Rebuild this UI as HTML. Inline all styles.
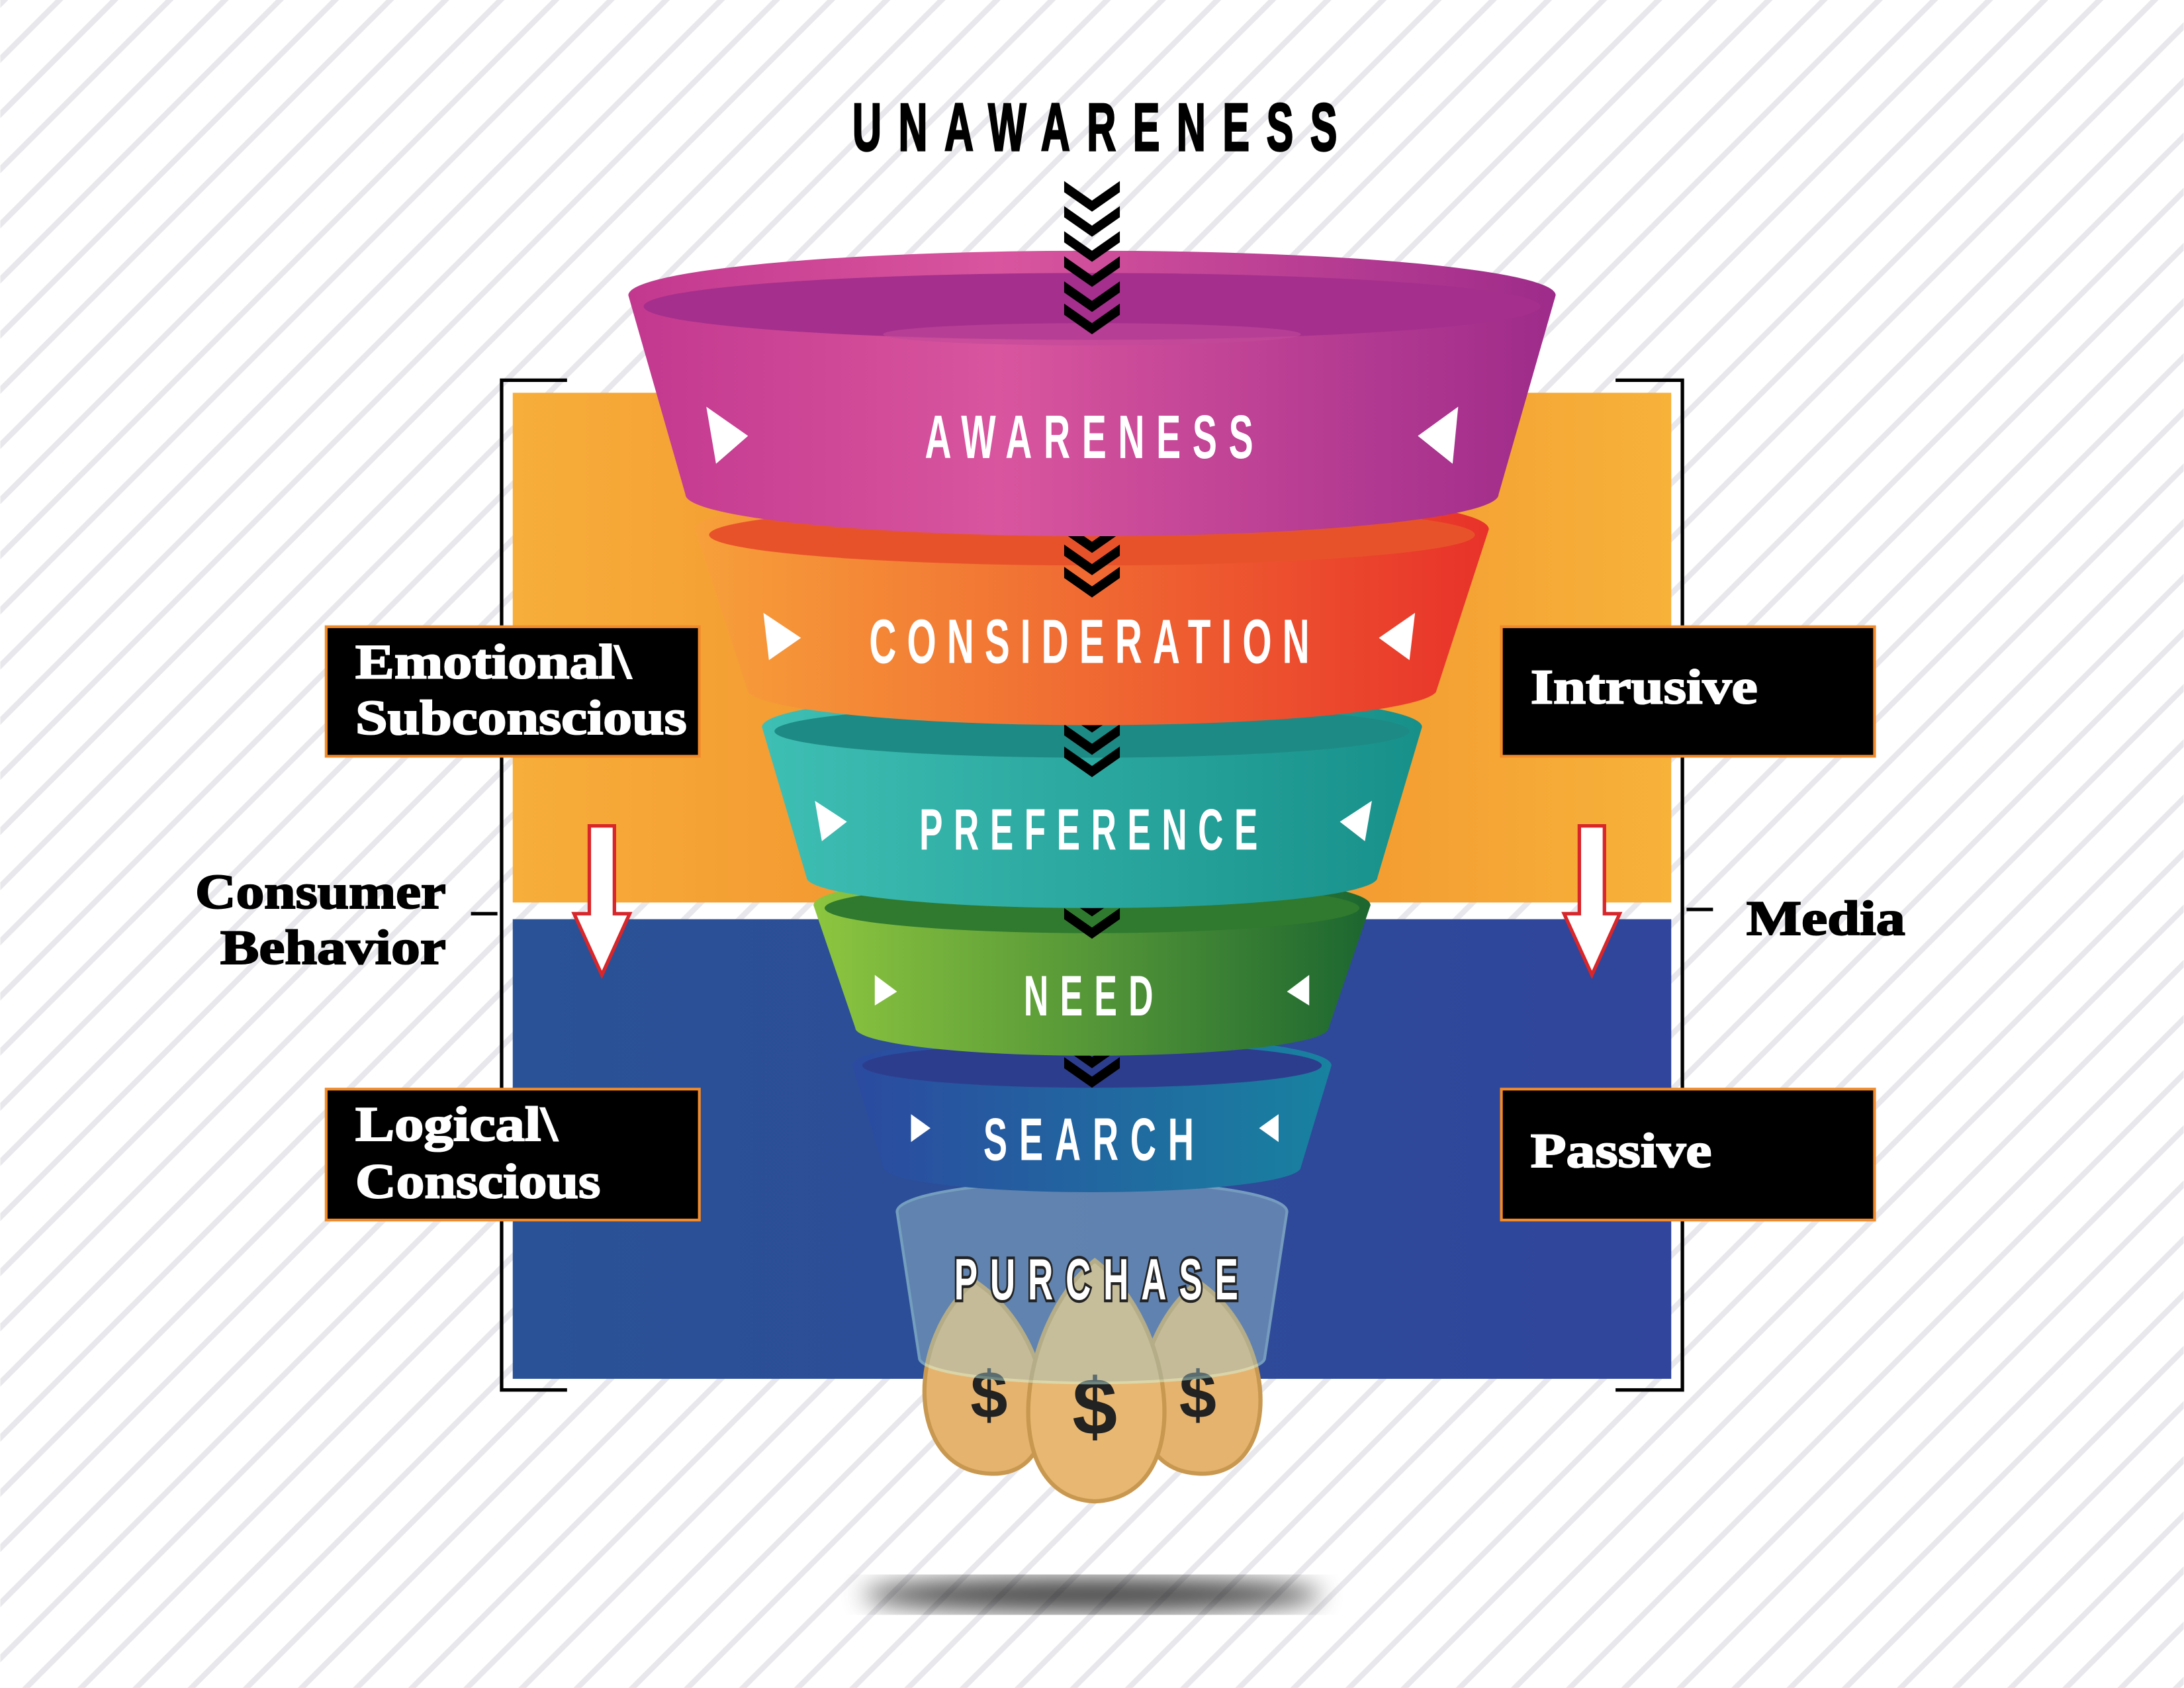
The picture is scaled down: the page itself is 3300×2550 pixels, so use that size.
<!DOCTYPE html>
<html><head><meta charset="utf-8"><style>
html,body{margin:0;padding:0;background:#fff}
svg{display:block}
.t{font-family:"Liberation Sans",sans-serif;font-weight:bold;fill:#fff;text-anchor:start}
.s{font-family:"Liberation Serif",serif;font-weight:bold;fill:#fff;font-size:35px;stroke:#fff;stroke-width:1}
.b{font-family:"Liberation Serif",serif;font-weight:bold;fill:#000;font-size:35px;stroke:#000;stroke-width:1}
</style></head><body>
<svg width="3300" height="2550" viewBox="0 0 1568 1212" xmlns="http://www.w3.org/2000/svg">
<defs>
<pattern id="st" width="28" height="28" patternUnits="userSpaceOnUse" patternTransform="rotate(-45)">
<rect width="28" height="28" fill="#fff"/><rect width="28" height="4" fill="#e8e8ec"/></pattern>
<linearGradient id="og" x1="0" x2="1"><stop offset="0" stop-color="#f7ae3a"/><stop offset=".5" stop-color="#f08a2a"/><stop offset="1" stop-color="#f7b23a"/></linearGradient>
<linearGradient id="bg" x1="0" x2="1"><stop offset="0" stop-color="#2a5296"/><stop offset="1" stop-color="#30459b"/></linearGradient>
<linearGradient id="g1" x1="0" x2="1"><stop offset="0" stop-color="#c2388f"/><stop offset=".4" stop-color="#d9559e"/><stop offset="1" stop-color="#9e2b8a"/></linearGradient>
<linearGradient id="g2" x1="0" x2="1"><stop offset="0" stop-color="#f7a03a"/><stop offset="1" stop-color="#e8322a"/></linearGradient>
<linearGradient id="g3" x1="0" x2="1"><stop offset="0" stop-color="#3ebfb4"/><stop offset="1" stop-color="#17908a"/></linearGradient>
<linearGradient id="g4" x1="0" x2="1"><stop offset="0" stop-color="#8dc63f"/><stop offset="1" stop-color="#1c6630"/></linearGradient>
<linearGradient id="g5" x1="0" x2="1"><stop offset="0" stop-color="#2b4aa0"/><stop offset="1" stop-color="#1882a0"/></linearGradient>
<filter id="bl"><feGaussianBlur stdDeviation="9"/></filter>
<g id="chev"><path d="M-20,0 L0,14 L20,0 L20,8 L0,22 L-20,8Z" fill="#000"/></g>
</defs>
<rect width="1568" height="1212" fill="url(#st)"/>
<rect x="368" y="282" width="832" height="366" fill="url(#og)"/>
<rect x="368" y="660" width="832" height="330" fill="url(#bg)"/>
<g stroke="#000" stroke-width="2.5" fill="none">
<path d="M407,273 H360 V998 H407"/><path d="M1160,273 H1208 V998 H1160"/>
<path d="M338,656 H357"/><path d="M1211,653 H1230"/></g>
<g transform="translate(612,108) scale(0.6,1)"><text x="0" y="0" font-family="Liberation Sans,sans-serif" font-weight="bold" font-size="48" stroke="#000" stroke-width="1.5" textLength="580" lengthAdjust="spacing">UNAWARENESS</text></g>
<!-- purchase & bags -->
<ellipse cx="784" cy="1145" rx="165" ry="12" fill="#000" opacity=".75" filter="url(#bl)"/>
<g>
<path d="M700,920 C650,960 650,1055 710,1058 C770,1062 760,960 700,920Z" fill="#e6b36e" stroke="#c99850" stroke-width="3"/>
<path d="M860,920 C810,960 800,1055 860,1058 C920,1062 920,960 860,920Z" fill="#e6b36e" stroke="#c99850" stroke-width="3"/>
<path d="M786,905 C730,950 715,1075 786,1078 C860,1075 845,950 786,905Z" fill="#e8b771" stroke="#c99850" stroke-width="3"/>
<text x="710" y="1018" font-family="Liberation Sans,sans-serif" font-weight="bold" font-size="48" fill="#222" text-anchor="middle">$</text>
<text x="786" y="1030" font-family="Liberation Sans,sans-serif" font-weight="bold" font-size="58" fill="#222" text-anchor="middle">$</text>
<text x="860" y="1018" font-family="Liberation Sans,sans-serif" font-weight="bold" font-size="48" fill="#222" text-anchor="middle">$</text>
</g>
<path d="M644,870 A140,22 0 0 1 924,870 L908,975 A124,18 0 0 1 660,975Z" fill="#9fc6cc" opacity=".45" stroke="#cfe" stroke-width="2"/>
<g transform="translate(685,933) scale(0.6,1)"><text class="t" font-size="42" textLength="340" lengthAdjust="spacing" stroke="#222" stroke-width="4" paint-order="stroke">PURCHASE</text></g>
<!-- search -->
<path d="M612,765 A172,22 0 0 1 956,765 L934,838 A150,18 0 0 1 634,838Z" fill="url(#g5)"/>
<ellipse cx="784" cy="765" rx="165" ry="16" fill="#2d3d8e"/>
<g transform="translate(706,833) scale(0.6,1)"><text class="t" font-size="43" textLength="252" lengthAdjust="spacing">SEARCH</text></g>
<path d="M654,800 L668,810 L654,820Z M918,800 L904,810 L918,820Z" fill="#fff"/>
<g transform="translate(784,745)"><use href="#chev"/><use href="#chev" y="14"/></g>
<!-- need -->
<path d="M584,650 A200,24 0 0 1 984,650 L954,738 A170,20 0 0 1 614,738Z" fill="url(#g4)"/>
<ellipse cx="784" cy="652" rx="192" ry="18" fill="#2f7a2e"/>
<g transform="translate(735,729) scale(0.6,1)"><text class="t" font-size="41" textLength="155" lengthAdjust="spacing">NEED</text></g>
<path d="M628,700 L644,712 L628,722Z M940,700 L924,712 L940,722Z" fill="#fff"/>
<g transform="translate(784,620)"><use href="#chev"/><use href="#chev" y="16"/><use href="#chev" y="32"/></g>
<!-- preference -->
<path d="M547,522 A237,26 0 0 1 1021,522 L989,630 A205,22 0 0 1 579,630Z" fill="url(#g3)"/>
<ellipse cx="784" cy="525" rx="228" ry="19" fill="#1d8a85"/>
<g transform="translate(660,610) scale(0.6,1)"><text class="t" font-size="42" textLength="405" lengthAdjust="spacing">PREFERENCE</text></g>
<path d="M585,575 L608,590 L590,604Z M985,575 L962,590 L980,604Z" fill="#fff"/>
<g transform="translate(784,488)"><use href="#chev"/><use href="#chev" y="16"/><use href="#chev" y="32"/><use href="#chev" y="48"/></g>
<!-- consideration -->
<path d="M499,380 A285,30 0 0 1 1069,380 L1031,497 A248,26 0 0 1 537,497Z" fill="url(#g2)"/>
<ellipse cx="784" cy="384" rx="275" ry="22" fill="#e8522a"/>
<g transform="translate(624,476) scale(0.6,1)"><text class="t" font-size="45" textLength="527" lengthAdjust="spacing">CONSIDERATION</text></g>
<path d="M548,440 L575,458 L552,474Z M1016,440 L990,458 L1012,474Z" fill="#fff"/>
<g transform="translate(784,343)"><use href="#chev"/><use href="#chev" y="16"/><use href="#chev" y="32"/><use href="#chev" y="48"/><use href="#chev" y="64"/></g>
<!-- awareness -->
<path d="M451,212 A333,32 0 0 1 1117,212 L1076,355 A292,30 0 0 1 492,355Z" fill="url(#g1)"/>
<ellipse cx="784" cy="220" rx="322" ry="24" fill="#a52f8d"/>
<ellipse cx="784" cy="240" rx="150" ry="8" fill="#c14a9a" opacity=".6"/>
<g transform="translate(664,329) scale(0.6,1)"><text class="t" font-size="44" textLength="393" lengthAdjust="spacing">AWARENESS</text></g>
<path d="M507,292 L537,313 L514,333Z M1047,292 L1018,313 L1043,333Z" fill="#fff"/>
<g transform="translate(784,130)"><use href="#chev"/><use href="#chev" y="18"/><use href="#chev" y="36"/><use href="#chev" y="54"/><use href="#chev" y="72"/><use href="#chev" y="88"/></g>
<!-- side arrows -->
<path d="M423,593 H441 V656 H452 L432,700 L412,656 H423Z" fill="#fff" stroke="#d8262a" stroke-width="2.5"/>
<path d="M1134,593 H1152 V656 H1163 L1143,700 L1123,656 H1134Z" fill="#fff" stroke="#d8262a" stroke-width="2.5"/>
<!-- boxes -->
<g fill="#000" stroke="#f08a2a" stroke-width="2">
<rect x="234" y="450" width="268" height="93"/><rect x="234" y="782" width="268" height="94"/>
<rect x="1078" y="450" width="268" height="93"/><rect x="1078" y="782" width="268" height="94"/></g>
<text class="s" x="255" y="487" textLength="198" lengthAdjust="spacingAndGlyphs">Emotional\</text><text class="s" x="255" y="527" textLength="238" lengthAdjust="spacingAndGlyphs">Subconscious</text>
<text class="s" x="255" y="819" textLength="145" lengthAdjust="spacingAndGlyphs">Logical\</text><text class="s" x="255" y="860" textLength="176" lengthAdjust="spacingAndGlyphs">Conscious</text>
<text class="s" x="1099" y="505" textLength="163" lengthAdjust="spacingAndGlyphs">Intrusive</text><text class="s" x="1099" y="838" textLength="130" lengthAdjust="spacingAndGlyphs">Passive</text>
<text class="b" x="140" y="652" textLength="180" lengthAdjust="spacingAndGlyphs">Consumer</text><text class="b" x="158" y="692" textLength="162" lengthAdjust="spacingAndGlyphs">Behavior</text>
<text class="b" x="1254" y="671" textLength="114" lengthAdjust="spacingAndGlyphs">Media</text>
</svg>
</body></html>
